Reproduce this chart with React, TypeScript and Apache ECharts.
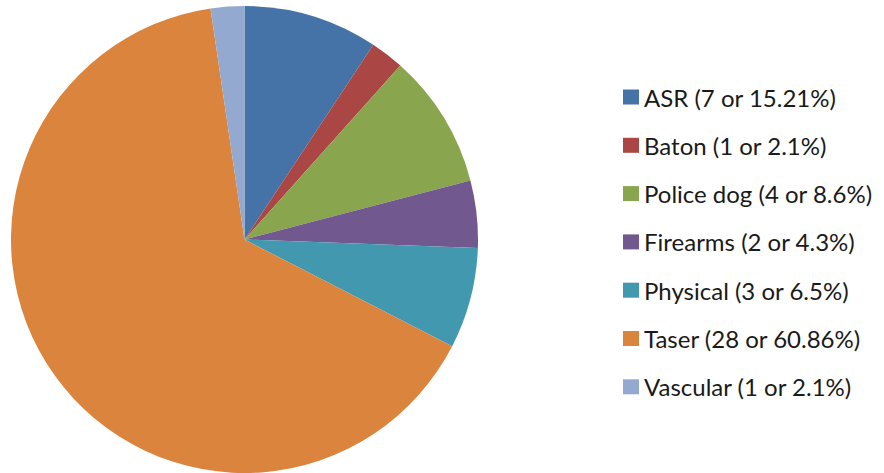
import React, { useEffect, useRef } from "react";
import * as echarts from "echarts";

const categories = [
  "ASR (7 or 15.21%)",
  "Baton (1 or 2.1%)",
  "Police dog (4 or 8.6%)",
  "Firearms (2 or 4.3%)",
  "Physical (3 or 6.5%)",
  "Taser (28 or 60.86%)",
  "Vascular (1 or 2.1%)",
];
// slice sizes as drawn in the picture
const values = [4, 1, 4, 2, 3, 28, 1];
const colors = ["#4572A7", "#AA4643", "#89A54E", "#71588F", "#4198AF", "#DB843D", "#93A9CF"];

export default function App() {
  const ref = useRef<HTMLDivElement>(null);
  useEffect(() => {
    if (!ref.current) return;
    const chart = echarts.init(ref.current, null, { renderer: "svg" });
    chart.setOption({
      animation: false,
      color: colors,
      legend: {
        orient: "vertical",
        left: 618,
        top: 80,
        padding: 5,
        itemWidth: 16,
        itemHeight: 15,
        itemGap: 24.3,
        icon: "rect",
        selectedMode: false,
        textStyle: {
          fontFamily: "Lato",
          fontSize: 24,
          color: "#1a1a1a",
          lineHeight: 24,
        },
        data: categories,
      },
      series: [
        {
          type: "pie",
          center: [244.5, 239.5],
          radius: 233.5,
          startAngle: 90,
          clockwise: true,
          label: { show: false },
          labelLine: { show: false },
          emphasis: { disabled: true },
          itemStyle: { borderWidth: 0 },
          data: categories.map((c, i) => ({ name: c, value: values[i] })),
        },
      ],
    });
    return () => chart.dispose();
  }, []);
  return (
    <div
      ref={ref}
      style={{ position: "fixed", left: 0, top: 0, width: 884, height: 473, background: "#fff" }}
    />
  );
}
